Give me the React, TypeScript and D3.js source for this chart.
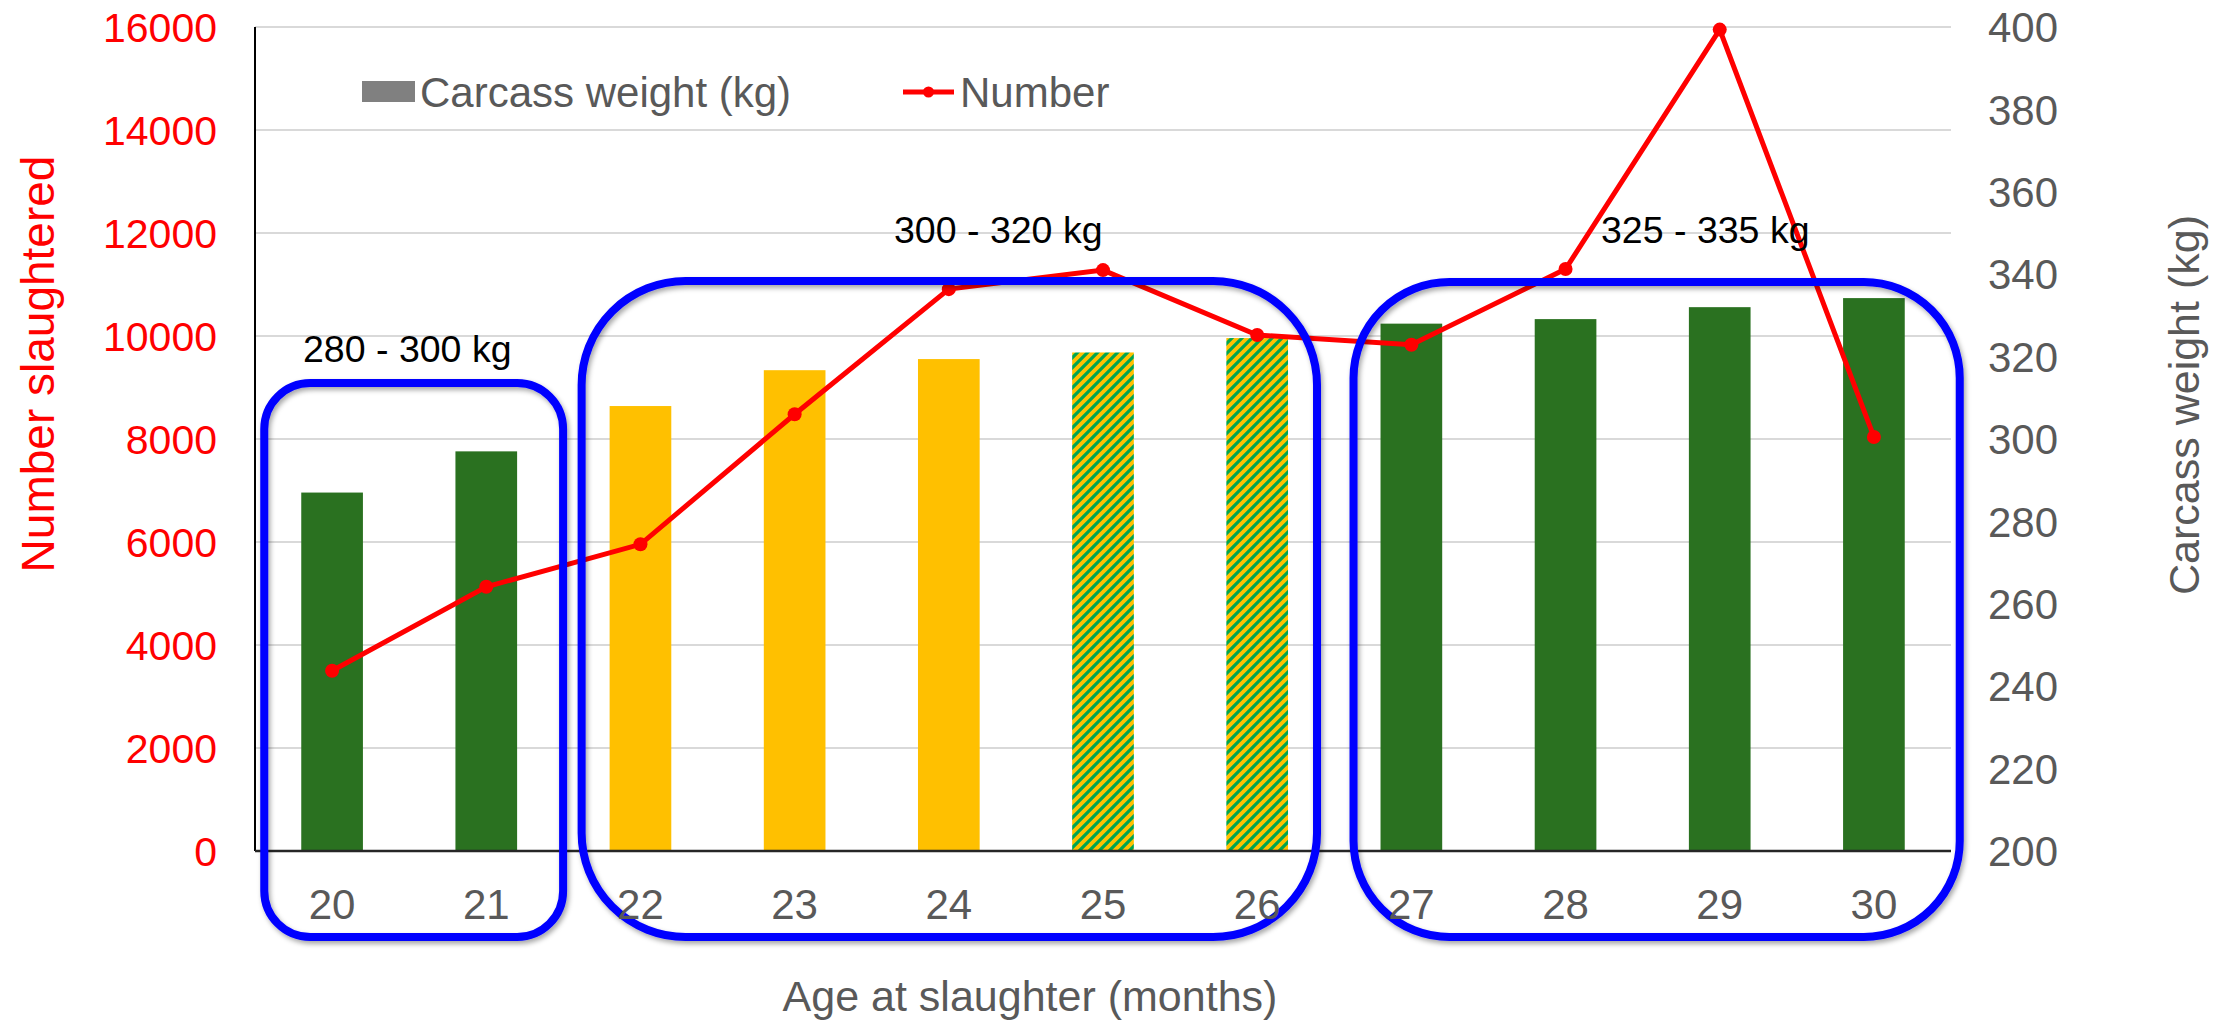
import React from "react";
import * as d3 from "d3";

// data
const ages = ["20", "21", "22", "23", "24", "25", "26", "27", "28", "29", "30"];
const carcassWeight = [287, 297, 308, 316.7, 319.4, 321, 324.5, 328, 329.1, 332, 334.2];
const numberSlaughtered = [3500, 5130, 5955, 8480, 10910, 11280, 10020, 9830, 11300, 15950, 8040];
const barKind = ["green", "green", "yellow", "yellow", "yellow", "hatch", "hatch", "green", "green", "green", "green"];

const leftTicks = [0, 2000, 4000, 6000, 8000, 10000, 12000, 14000, 16000];
const rightTicks = [200, 220, 240, 260, 280, 300, 320, 340, 360, 380, 400];

const groupLabels = ["280 - 300 kg", "300 - 320 kg", "325 - 335 kg"];
const groupFirst = ["20", "22", "27"];
const groupLast = ["21", "26", "30"];

const W = 2227;
const H = 1023;
const m = { left: 255, right: 276, top: 27, bottom: 172 };

const GREEN = "#2A7120";
const YELLOW = "#FFC000";
const HATCH_GREEN = "#00A550";
const GREY = "#595959";

export default function App() {
  const x = d3
    .scaleBand()
    .domain(ages)
    .range([m.left, W - m.right])
    .paddingInner(0.6)
    .paddingOuter(0.3);
  const yLeft = d3.scaleLinear().domain([0, 16000]).range([H - m.bottom, m.top]);
  const yRight = d3.scaleLinear().domain([200, 400]).range([H - m.bottom, m.top]);

  const line = d3
    .line<number>()
    .x((d, i) => x(ages[i])! + x.bandwidth() / 2)
    .y((d) => yLeft(d));

  const bw = x.bandwidth();
  const bottom = H - m.bottom;

  // callout boxes drawn around groups of bars (hand-placed in the original)
  const boxLayout = [
    { padL: 37, padR: 46, top: 383, r: 46 },
    { padL: 28, padR: 29, top: 281, r: 104 },
    { padL: 27, padR: 55, top: 282, r: 96 },
  ];
  const boxBottom = 937;
  const labelPos = [
    { x: 303, y: 362 },
    { x: 894, y: 243 },
    { x: 1601, y: 243 },
  ];

  const fillFor = (k: string) =>
    k === "green" ? GREEN : k === "yellow" ? YELLOW : "url(#hatch)";

  return (
    <svg
      width={W}
      height={H}
      style={{ position: "absolute", left: 0, top: 0, background: "#fff" }}
      fontFamily="'Liberation Sans', Arial, sans-serif"
    >
      <defs>
        <pattern id="hatch" patternUnits="userSpaceOnUse" width={10} height={10}>
          <rect width={10} height={10} fill={YELLOW} />
          <path d="M-2.5,2.5 L2.5,-2.5 M0,10 L10,0 M7.5,12.5 L12.5,7.5" stroke={HATCH_GREEN} strokeWidth={3.2} />
        </pattern>
        <filter id="shadow" x="-10%" y="-10%" width="120%" height="120%">
          <feDropShadow dx={2} dy={3} stdDeviation={2.5} floodColor="#000" floodOpacity={0.35} />
        </filter>
      </defs>

      {/* gridlines */}
      {leftTicks.slice(1).map((t) => (
        <line key={t} x1={m.left} x2={W - m.right} y1={yLeft(t)} y2={yLeft(t)} stroke="#D9D9D9" strokeWidth={2} />
      ))}

      {/* bars */}
      {ages.map((a, i) => (
        <rect
          key={a}
          x={x(a)}
          y={yRight(carcassWeight[i])}
          width={bw}
          height={bottom - yRight(carcassWeight[i])}
          fill={fillFor(barKind[i])}
        />
      ))}

      {/* axes lines */}
      <line x1={m.left} x2={m.left} y1={m.top} y2={bottom} stroke="#000" strokeWidth={2} />
      <line x1={m.left} x2={W - m.right} y1={bottom} y2={bottom} stroke="#262626" strokeWidth={2.5} />

      {/* number line */}
      <path d={line(numberSlaughtered)!} fill="none" stroke="#FF0000" strokeWidth={5} />
      {numberSlaughtered.map((v, i) => (
        <circle key={i} cx={x(ages[i])! + bw / 2} cy={yLeft(v)} r={7} fill="#FF0000" />
      ))}

      {/* callout boxes */}
      {groupFirst.map((g, i) => {
        const l = x(g)! - boxLayout[i].padL;
        const r = x(groupLast[i])! + bw + boxLayout[i].padR;
        return (
          <rect
            key={g}
            x={l}
            y={boxLayout[i].top}
            width={r - l}
            height={boxBottom - boxLayout[i].top}
            rx={boxLayout[i].r}
            ry={boxLayout[i].r}
            fill="none"
            stroke="#0000FF"
            strokeWidth={8}
            filter="url(#shadow)"
          />
        );
      })}
      {groupLabels.map((t, i) => (
        <text key={t} x={labelPos[i].x} y={labelPos[i].y} fontSize={37.5} fill="#000">
          {t}
        </text>
      ))}

      {/* left axis */}
      {leftTicks.map((t) => (
        <text key={t} x={217} y={yLeft(t)} dy="0.36em" textAnchor="end" fontSize={41} fill="#FF0000">
          {t}
        </text>
      ))}
      <text
        transform={`translate(38,${(m.top + bottom) / 2 - 75}) rotate(-90)`}
        textAnchor="middle"
        dy="0.35em"
        fontSize={46}
        fill="#FF0000"
      >
        Number slaughtered
      </text>

      {/* right axis */}
      {rightTicks.map((t) => (
        <text key={t} x={1988} y={yRight(t)} dy="0.36em" textAnchor="start" fontSize={42} fill={GREY}>
          {t}
        </text>
      ))}
      <text
        transform={`translate(2184,405) rotate(-90)`}
        textAnchor="middle"
        dy="0.35em"
        fontSize={43}
        fill={GREY}
      >
        Carcass weight (kg)
      </text>

      {/* x axis */}
      {ages.map((a) => (
        <text key={a} x={x(a)! + bw / 2} y={919} textAnchor="middle" fontSize={42} fill={GREY}>
          {a}
        </text>
      ))}
      <text x={1030} y={1011} textAnchor="middle" fontSize={43} fill={GREY}>
        Age at slaughter (months)
      </text>

      {/* legend */}
      <rect x={362} y={81} width={53} height={21} fill="#808080" />
      <text x={420} y={107} fontSize={42} fill={GREY}>
        Carcass weight (kg)
      </text>
      <line x1={903} x2={954} y1={92} y2={92} stroke="#FF0000" strokeWidth={5} />
      <circle cx={928.5} cy={92} r={5.5} fill="#FF0000" />
      <text x={960} y={107} fontSize={42} fill={GREY}>
        Number
      </text>
    </svg>
  );
}
